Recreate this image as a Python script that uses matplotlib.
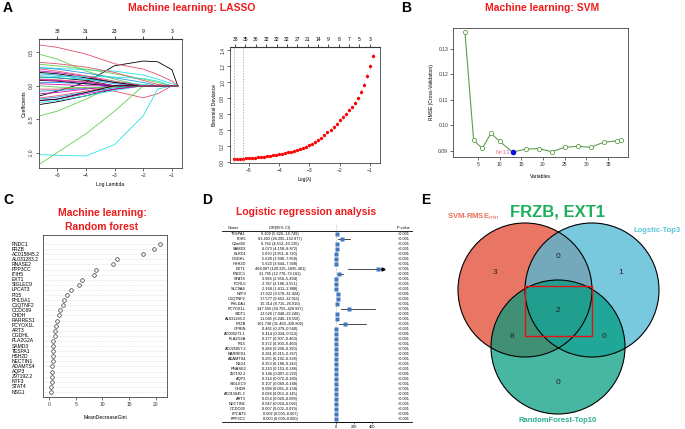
import numpy as np
import matplotlib
matplotlib.use('Agg')
import matplotlib.pyplot as plt
from matplotlib.patches import Circle, Rectangle

plt.rcParams['font.family'] = ['Liberation Sans', 'DejaVu Sans']

# ---------------- data ----------------
# A (left): LASSO coefficient paths at a few log-lambda knots
lasso_knots = [-5.6, -5.0, -4.0, -3.0, -2.0, -1.5, -1.0, -0.8]
lasso_paths = [
    [-0.15, -0.08, 0.05, 0.30, 0.37, 0.36, 0.24, 0.0],
    [0.61, 0.575, 0.475, 0.33, 0.25, 0.17, 0.07, 0.0],
    [0.47, 0.40, 0.22, 0.10, 0.0, 0.0, 0.0, 0.0],
    [0.18, 0.16, 0.10, 0.03, 0.0, 0.0, 0.0, 0.0],
    [0.27, 0.26, 0.24, 0.22, 0.16, 0.10, 0.03, 0.0],
    [0.22, 0.20, 0.14, 0.05, 0.0, 0.0, 0.0, 0.0],
    [0.13, 0.12, 0.08, 0.0, 0.0, 0.0, 0.0, 0.0],
    [-0.05, -0.05, -0.03, -0.08, -0.18, -0.12, 0.0, 0.0],
    [-1.17, -1.0, -0.72, -0.38, 0.0, 0.0, 0.0, 0.0],
    [-0.08, -0.07, -0.04, 0.0, 0.0, 0.0, 0.0, 0.0],
    [-1.03, -1.04, -1.05, -0.88, -0.45, -0.05, 0.0, 0.0],
    [-0.12, -0.10, -0.05, 0.0, 0.0, 0.0, 0.0, 0.0],
    [-0.28, -0.24, -0.15, -0.05, 0.0, 0.0, 0.0, 0.0],
    [0.10, 0.09, 0.06, 0.0, 0.0, 0.0, 0.0, 0.0],
    [-0.45, -0.38, -0.20, 0.0, 0.0, 0.0, 0.0, 0.0],
    [0.05, 0.05, 0.03, 0.0, 0.0, 0.0, 0.0, 0.0],
    [-0.25, -0.22, -0.15, -0.07, 0.0, 0.0, 0.0, 0.0],
    [0.03, 0.02, 0.0, 0.0, 0.0, 0.0, 0.0, 0.0],
    [0.08, 0.07, 0.03, 0.0, 0.0, 0.0, 0.0, 0.0],
    [-0.18, -0.15, -0.08, 0.0, 0.0, 0.0, 0.0, 0.0],
    [0.32, 0.30, 0.25, 0.18, 0.10, 0.05, 0.0, 0.0],
    [-0.20, -0.17, -0.10, -0.03, 0.0, 0.0, 0.0, 0.0],
    [0.12, 0.12, 0.10, 0.06, 0.02, 0.0, 0.0, 0.0],
    [-0.22, -0.20, -0.12, -0.05, 0.0, 0.0, 0.0, 0.0],
    [0.20, 0.18, 0.12, 0.05, 0.0, 0.0, 0.0, 0.0],
    [0.35, 0.33, 0.28, 0.20, 0.08, 0.02, 0.0, 0.0],
    [0.0, -0.02, -0.03, -0.02, 0.0, 0.0, 0.0, 0.0],
    [0.27, 0.25, 0.19, 0.12, 0.05, 0.0, 0.0, 0.0],
    [0.15, 0.14, 0.14, 0.13, 0.11, 0.07, 0.0, 0.0],
    [0.09, 0.08, 0.05, 0.0, 0.0, 0.0, 0.0, 0.0],
    [-0.22, -0.20, -0.10, 0.0, 0.0, 0.0, 0.0, 0.0],
    [0.25, 0.22, 0.15, 0.07, 0.0, 0.0, 0.0, 0.0],
]
lasso_top_df = ['38', '31', '23', '9', '3']

# A (right): cross-validation curve
cv_loglam = [-5.5, -5.4, -5.3, -5.2, -5.1, -5.0, -4.9, -4.8, -4.7, -4.6, -4.5, -4.4,
             -4.3, -4.2, -4.1, -4.0, -3.9, -3.8, -3.7, -3.6, -3.5, -3.4, -3.3, -3.2,
             -3.1, -3.0, -2.9, -2.8, -2.7, -2.6, -2.5, -2.4, -2.3, -2.2, -2.1, -2.0,
             -1.9, -1.8, -1.7, -1.6, -1.5, -1.4, -1.3, -1.2, -1.1, -1.0, -0.9]
cv_dev = [0.040, 0.041, 0.042, 0.043, 0.045, 0.047, 0.050, 0.053, 0.057, 0.061, 0.066, 0.072,
          0.079, 0.086, 0.093, 0.100, 0.106, 0.113, 0.121, 0.130, 0.140, 0.151, 0.163, 0.177,
          0.193, 0.210, 0.228, 0.248, 0.270, 0.300, 0.335, 0.370, 0.405, 0.440, 0.480, 0.525,
          0.565, 0.605, 0.645, 0.690, 0.740, 0.800, 0.880, 0.970, 1.080, 1.200, 1.330]
cv_se = [0.008, 0.008, 0.008, 0.008, 0.008, 0.008, 0.009, 0.009, 0.009, 0.009, 0.010, 0.010,
         0.010, 0.011, 0.011, 0.011, 0.012, 0.012, 0.012, 0.013, 0.013, 0.014, 0.014, 0.015,
         0.015, 0.016, 0.016, 0.017, 0.017, 0.018, 0.019, 0.019, 0.020, 0.021, 0.021, 0.022,
         0.023, 0.023, 0.024, 0.025, 0.026, 0.027, 0.028, 0.029, 0.030, 0.031, 0.032]
cv_top_df = ['38', '35', '36', '32', '32', '32', '27', '21', '14', '9', '8', '7', '5', '3']

# B: SVM-RFE
svm_vars = [2, 4, 6, 8, 10, 13, 16, 19, 22, 25, 28, 31, 34, 37, 38]
svm_rmse = [0.1365, 0.0941, 0.0910, 0.0969, 0.0937, 0.0895, 0.0907, 0.0909,
            0.0897, 0.0914, 0.0918, 0.0914, 0.0934, 0.0939, 0.0942]
svm_best = 13

# C: random forest importance
rf_genes = ['FNDC1', 'FRZB', 'AC015845.2', 'AL031283.2', 'RNASE2', 'PPP3CC', 'ITIH5',
            'EXT1', 'SIGLEC9', 'LPCAT3', 'PI15', 'PHLDA1', 'C1QTNF2', 'CCDC69', 'CHDH',
            'RARRES1', 'PCYOX1L', 'ART3', 'OGDHL', 'PLA2G2A', 'SAMD3', 'TESPA1', 'HSH2D',
            'NECTIN1', 'ADAMTS4', 'AQP3', 'Z97192.2', 'NTF3', 'STAT4', 'NSG1']
rf_gini = [20.7, 19.7, 17.5, 12.7, 11.9, 8.8, 8.4, 6.2, 5.65, 4.1, 3.3, 2.9, 2.7, 2.1, 1.9,
           1.5, 1.4, 1.15, 1.08, 0.85, 0.80, 0.78, 0.72, 0.68, 0.62, 0.60, 0.55, 0.50, 0.45, 0.35]

# D: logistic regression
lr_genes = ['TESPA1', 'ITIH5', 'C2orf40', 'SAMD3', 'KLRD1', 'OGDHL', 'HSH2D', 'EXT1', 'FNDC1',
            'STAT4', 'FCRL6', 'SLC9A4', 'NTF3', 'C1QTNF2', 'PHLDA1', 'PCYOX1L', 'SIDT1',
            'AL031283.2', 'FRZB', 'GPRIN', 'AC009273.1', 'PLA2G2A', 'PI15', 'AC025857.2',
            'RARRES1', 'ADAMTS4', 'NSG1', 'RNASE2', 'Z97192.2', 'AQP3', 'SIGLEC9', 'CHDH',
            'AC015845.2', 'ART3', 'NECTIN1', 'CCDC69', 'LPCAT3', 'PPP3CC']
lr_or = [9.109, 63.403, 6.762, 6.073, 5.870, 5.628, 5.623, 468.087, 31.795, 3.986, 2.787,
         2.168, 17.622, 17.577, 15.314, 147.550, 12.526, 11.045, 101.738, 0.461, 0.414,
         0.377, 0.372, 0.284, 0.281, 0.255, 0.253, 0.210, 0.146, 0.114, 0.107, 0.098,
         0.088, 0.054, 0.047, 0.007, 0.002, 0.000]
lr_lo = [5.626, 26.295, 4.512, 4.158, 3.951, 3.940, 3.844, 129.225, 12.770, 2.956, 2.188,
         1.611, 9.578, 9.652, 8.715, 50.755, 7.048, 6.240, 31.460, 0.379, 0.334, 0.307,
         0.300, 0.208, 0.215, 0.192, 0.188, 0.153, 0.097, 0.072, 0.069, 0.061, 0.053,
         0.029, 0.024, 0.002, 0.000, 0.000]
lr_hi = [14.749, 152.877, 10.135, 8.872, 8.720, 7.958, 7.938, 1695.401, 79.162, 5.404,
         3.551, 2.888, 32.424, 32.011, 26.910, 428.937, 22.246, 19.550, 328.802, 0.560,
         0.512, 0.463, 0.460, 0.390, 0.367, 0.338, 0.342, 0.288, 0.222, 0.180, 0.168,
         0.158, 0.145, 0.099, 0.092, 0.019, 0.007, 0.000]
lr_p = ['<0.001'] * len(lr_genes)

# E: Venn counts
venn_counts = {'A': 3, 'B': 1, 'C': 0, 'AB': 0, 'AC': 8, 'BC': 0, 'ABC': 2}
venn_names = ['SVM-RMSE$_{\\mathrm{min}}$', 'Logstic-Top3', 'RandomForest-Top10']
common_genes = 'FRZB, EXT1'

# ---------------- layout ----------------
W, H = 685, 429
fig = plt.figure(figsize=(W / 100, H / 100), dpi=100)

def px_axes(l, t, r, b):
    return fig.add_axes([l / W, 1 - b / H, (r - l) / W, (b - t) / H])

ov = fig.add_axes([0, 0, 1, 1])
ov.set_xlim(0, W)
ov.set_ylim(H, 0)
ov.axis('off')

red_title = '#ee1c1c'
tfs = 7.5
for lab, x, y in [('A', 3, 8), ('B', 401, 8), ('C', 3, 200), ('D', 202, 200), ('E', 421, 200)]:
    ov.text(x, y, lab, fontsize=10, fontweight='bold', va='center', ha='left')
ov.text(192, 8, 'Machine learning: LASSO', color=red_title, fontsize=tfs, fontweight='bold', ha='center', va='center')
ov.text(542, 8, 'Machine learning: SVM', color=red_title, fontsize=tfs, fontweight='bold', ha='center', va='center')
ov.text(102, 213, 'Machine learning:', color=red_title, fontsize=tfs, fontweight='bold', ha='center', va='center')
ov.text(102, 227, 'Random forest', color=red_title, fontsize=tfs, fontweight='bold', ha='center', va='center')
ov.text(306, 212, 'Logistic regression analysis', color=red_title, fontsize=tfs, fontweight='bold', ha='center', va='center')

small = 3.6

def r_style(ax, rot_y=True):
    for s in ax.spines.values():
        s.set_linewidth(0.6)
        s.set_color('#444444')
    ax.tick_params(labelsize=small, length=2, width=0.5, pad=1.5, colors='#333333')
    if rot_y:
        for t in ax.get_yticklabels():
            t.set_rotation(90)
            t.set_va('center')

# A left: coefficient paths
r_cols = ['black', '#DF536B', '#61D04F', '#2297E6', '#28E2E5', '#CD0BBC']
axL = px_axes(39, 39, 182, 168)
for i, p in enumerate(lasso_paths):
    axL.plot(lasso_knots, p, color=r_cols[i % 6], lw=0.6)
axL.set_xlim(-5.63, -0.65)
axL.set_ylim(-1.23, 0.70)
axL.set_xticks([-5, -4, -3, -2, -1])
axL.set_yticks([-1.0, -0.5, 0.0, 0.5])
axL.set_yticklabels(['-1.0', '-0.5', '0.0', '0.5'])
axL.set_xlabel('Log Lambda', fontsize=small, labelpad=3)
axL.set_ylabel('Coefficients', fontsize=small, labelpad=2)
r_style(axL)
secL = axL.secondary_xaxis('top')
secL.set_xticks([-5, -4, -3, -2, -1])
secL.set_xticklabels(lasso_top_df)
secL.tick_params(labelsize=small, length=2, width=0.5, pad=1.5)

# A right: CV curve
axC = px_axes(230, 47, 380, 163)
axC.vlines(cv_loglam, np.array(cv_dev) - np.array(cv_se), np.array(cv_dev) + np.array(cv_se),
           color='#b0b0b0', lw=0.6)
axC.plot(cv_loglam, cv_dev, 'o', color='red', ms=2.4, mec='none')
axC.axvline(cv_loglam[0], color='#999999', lw=0.5, ls=(0, (2, 2)))
axC.axvline(-5.2, color='#999999', lw=0.5, ls=(0, (2, 2)))
axC.set_xlim(-5.63, -0.66)
axC.set_ylim(-0.0125, 1.44)
axC.set_xticks([-5, -4, -3, -2, -1])
axC.set_yticks([0.0, 0.2, 0.4, 0.6, 0.8, 1.0, 1.2, 1.4])
axC.set_xlabel('Log(\u03bb)', fontsize=small, labelpad=3)
axC.set_ylabel('Binomial Deviance', fontsize=small, labelpad=2)
r_style(axC)
secC = axC.secondary_xaxis('top')
secC.set_xticks([-5.46 + 0.343 * i for i in range(len(cv_top_df))])
secC.set_xticklabels(cv_top_df)
secC.tick_params(labelsize=small, length=2, width=0.5, pad=1.5)

# B: SVM
axB = px_axes(453, 28, 628, 157)
axB.plot(svm_vars, svm_rmse, '-o', color='#5e9e4c', lw=0.8, ms=3, mfc='white', mec='#5e9e4c', mew=0.6)
bi = svm_vars.index(svm_best)
axB.plot(svm_vars[bi], svm_rmse[bi], 'o', color='#1010e0', ms=3)
axB.text(svm_vars[bi] - 0.6, svm_rmse[bi], 'N=%d' % svm_best, color='#ee6f8a', fontsize=4.2,
         ha='right', va='center')
axB.set_xlim(-0.76, 39.6)
axB.set_ylim(0.0876, 0.1382)
axB.set_xticks([5, 10, 15, 20, 25, 30, 35])
axB.set_yticks([0.09, 0.10, 0.11, 0.12, 0.13])
axB.set_yticklabels(['0.09', '0.10', '0.11', '0.12', '0.13'])
axB.set_xlabel('Variables', fontsize=small, labelpad=5)
axB.set_ylabel('RMSE (Cross-Validation)', fontsize=small, labelpad=3)
r_style(axB, rot_y=False)

# C: random forest dotchart
axR = px_axes(43, 235, 167, 397)
yr = np.arange(len(rf_genes))
for y in yr:
    axR.axhline(y, color='#cccccc', lw=0.4, ls=(0, (1, 1.5)))
axR.plot(rf_gini, yr, 'o', ms=2.6, mfc='white', mec='#333333', mew=0.5)
axR.set_ylim(29.98, -1.76)
axR.set_xlim(-1.1, 22.05)
axR.set_yticks([])
axR.set_xticks([0, 5, 10, 15, 20])
axR.set_xlabel('MeanDecreaseGini', fontsize=small, labelpad=6)
r_style(axR, rot_y=False)
for y, g in zip(yr, rf_genes):
    axR.text(12, 244 + y * 148 / 29, g, transform=ov.transData, fontsize=small, ha='left', va='center')

# D: logistic regression forest table
n = len(lr_genes)
row_y = [234 + i * 5.0 for i in range(n)]
tfs2 = 2.8
ov.text(228, 228, 'Genes', fontsize=tfs2, ha='left', va='center')
ov.text(280, 228, 'OR(95% CI)', fontsize=tfs2, ha='center', va='center')
ov.text(397, 228, 'P value', fontsize=tfs2, ha='left', va='center')
ov.plot([222, 412], [231.2, 231.2], color='black', lw=0.6)
ov.plot([222, 412], [421.8, 421.8], color='black', lw=0.6)
for i in range(n):
    ov.text(246, row_y[i], lr_genes[i], fontsize=tfs2, ha='right', va='center')
    ov.text(280, row_y[i], '%.3f (%.3f\u2013%.3f)' % (lr_or[i], lr_lo[i], lr_hi[i]),
            fontsize=tfs2, ha='center', va='center')
    ov.text(398, row_y[i], lr_p[i], fontsize=tfs2, ha='left', va='center')

axF = px_axes(331, 222, 392, 422)
axF.set_ylim(37.6, -2.4)
axF.set_xlim(-55, 622)
clip_hi = 520
for i in range(n):
    hi = min(lr_hi[i], clip_hi)
    axF.plot([lr_lo[i], hi], [i, i], color='black', lw=0.5)
    if lr_hi[i] > clip_hi:
        axF.plot(clip_hi, i, marker='>', color='black', ms=2.2)
axF.plot(lr_or, range(n), 's', color='#3f76bf', ms=2.2, mec='none')
axF.axvline(1, color='#888888', lw=0.4, ls=(0, (1, 1.5)), ymax=0.99)
for s in ['top', 'right', 'left']:
    axF.spines[s].set_visible(False)
axF.spines['bottom'].set_bounds(0, 400)
axF.spines['bottom'].set_linewidth(0.5)
axF.set_yticks([])
axF.set_xticks([0, 200, 400])
axF.tick_params(labelsize=tfs2, length=1.5, width=0.4, pad=1)
axF.patch.set_alpha(0)

# E: Venn
vr = 67
centers = [(525, 290), (592, 290), (558, 347)]
fills = [(233 / 255, 117 / 255, 100 / 255, 1.0), (82 / 255, 185 / 255, 213 / 255, 0.78),
         (0.0, 155 / 255, 125 / 255, 0.72)]
for c, f in zip(centers, fills):
    ov.add_patch(Circle(c, vr, facecolor=f, edgecolor='none'))
for c in centers:
    ov.add_patch(Circle(c, vr, facecolor='none', edgecolor='black', lw=0.8))
vpos = {'A': (495, 273), 'B': (621, 273), 'C': (558, 383), 'AB': (558, 256),
        'AC': (512, 337), 'BC': (604, 337), 'ABC': (558, 310)}
for k, v in venn_counts.items():
    ov.text(vpos[k][0], vpos[k][1], str(v), fontsize=6, ha='center', va='center', color='#222222')
ov.add_patch(Rectangle((525, 286), 67, 50, facecolor='none', edgecolor='#e81010', lw=1.0))
ov.text(558, 212, common_genes, color='#1fae5b', fontsize=12, fontweight='bold', ha='center', va='center')
ov.text(473, 217, venn_names[0], color='#e8705a', fontsize=5.5, fontweight='bold', ha='center', va='center')
ov.text(657, 230, venn_names[1], color='#5bc3de', fontsize=5.5, fontweight='bold', ha='center', va='center')
ov.text(558, 421, venn_names[2], color='#2bae8e', fontsize=5.5, fontweight='bold', ha='center', va='center')

fig.savefig('out.png', dpi=100)
